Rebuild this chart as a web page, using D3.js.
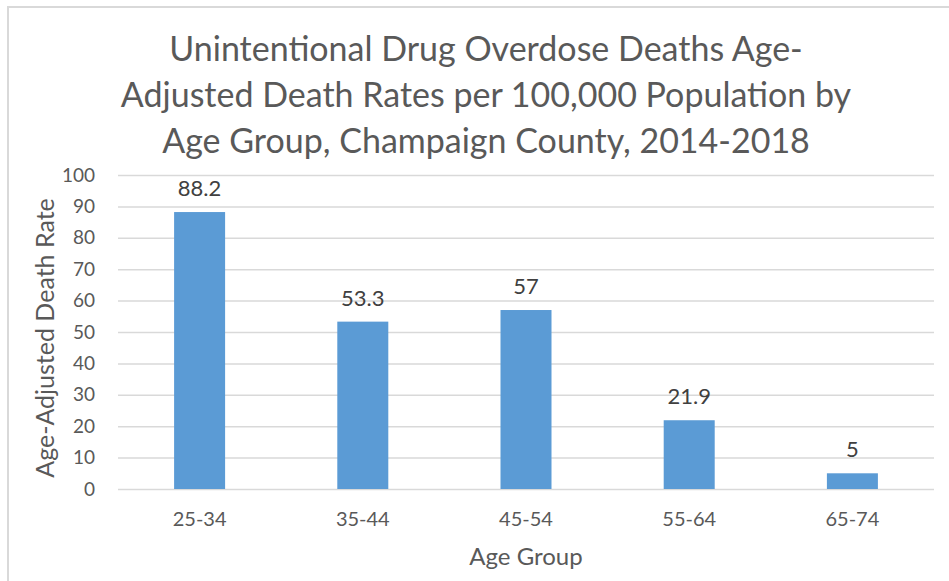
<!DOCTYPE html>
<html>
<head>
<meta charset="utf-8">
<script src="https://cdn.jsdelivr.net/npm/d3@7"></script>
<style>
  body { margin: 0; background: #fff; }
  text { font-family: Lato, "Open Sans", sans-serif; }
</style>
</head>
<body>
<div id="chart"></div>
<script>
var categories = ["25-34", "35-44", "45-54", "55-64", "65-74"];
var values = [88.2, 53.3, 57, 21.9, 5];
var labels = ["88.2", "53.3", "57", "21.9", "5"];
var yTicks = [0, 10, 20, 30, 40, 50, 60, 70, 80, 90, 100];
var titleLines = [
    "Unintentional Drug Overdose Deaths Age-",
    "Adjusted Death Rates per 100,000 Population by",
    "Age Group, Champaign County, 2014-2018"
];

var svg = d3.select("#chart").append("svg").attr("width", 949).attr("height", 581),
    margin = {top: 175, right: 15, bottom: 92, left: 118},
    width = 949 - margin.left - margin.right,
    height = 581 - margin.top - margin.bottom;

// chart frame
svg.append("rect")
    .attr("x", 8).attr("y", 7)
    .attr("width", 960).attr("height", 600)
    .attr("fill", "none")
    .attr("stroke", "#d9d9d9")
    .attr("stroke-width", 2);

var x = d3.scaleBand()
    .domain(categories)
    .range([0, width])
    .paddingInner(0.6875)
    .paddingOuter(0.34375);

var y = d3.scaleLinear().domain([0, 100]).range([height, 0]);

var g = svg.append("g")
    .attr("transform", "translate(" + margin.left + "," + margin.top + ")");

// gridlines
g.append("g")
    .attr("class", "grid")
    .call(d3.axisLeft(y).tickValues(yTicks).tickSize(-width).tickFormat(""))
    .call(function(s) {
        s.select(".domain").remove();
        s.selectAll("line").attr("stroke", "#d9d9d9").attr("stroke-width", 1.5);
    });

// y tick labels
g.append("g")
    .call(d3.axisLeft(y).tickValues(yTicks).tickSize(0).tickPadding(23))
    .call(function(s) {
        s.select(".domain").remove();
        s.selectAll("text").attr("fill", "#595959").style("font-size", "19px");
    });

// x axis labels
g.append("g")
    .attr("transform", "translate(0," + height + ")")
    .call(d3.axisBottom(x).tickSize(0).tickPadding(23))
    .call(function(s) {
        s.select(".domain").remove();
        s.selectAll("text").attr("fill", "#595959").style("font-size", "20px");
    });

// bars
g.selectAll(".bar")
    .data(values)
    .enter().append("rect")
    .attr("class", "bar")
    .attr("x", function(d, i) { return x(categories[i]); })
    .attr("y", function(d) { return y(d); })
    .attr("width", x.bandwidth())
    .attr("height", function(d) { return height - y(d); })
    .attr("fill", "#5b9bd5");

// data labels
g.selectAll(".lbl")
    .data(values)
    .enter().append("text")
    .attr("class", "lbl")
    .attr("x", function(d, i) { return x(categories[i]) + x.bandwidth() / 2; })
    .attr("y", function(d) { return y(d) - 16; })
    .attr("text-anchor", "middle")
    .attr("fill", "#404040")
    .style("font-size", "22px")
    .text(function(d, i) { return labels[i]; });

// title
svg.append("g").selectAll("text")
    .data(titleLines)
    .enter().append("text")
    .attr("x", 486)
    .attr("y", function(d, i) { return 61 + i * 46; })
    .attr("text-anchor", "middle")
    .attr("fill", "#595959")
    .style("font-size", "34px")
    .text(function(d) { return d; });

// axis titles
svg.append("text")
    .attr("transform", "translate(54,338) rotate(-90)")
    .attr("text-anchor", "middle")
    .attr("fill", "#595959")
    .style("font-size", "25px")
    .text("Age-Adjusted Death Rate");

svg.append("text")
    .attr("x", margin.left + width / 2)
    .attr("y", 565)
    .attr("text-anchor", "middle")
    .attr("fill", "#595959")
    .style("font-size", "24px")
    .text("Age Group");
</script>
</body>
</html>
